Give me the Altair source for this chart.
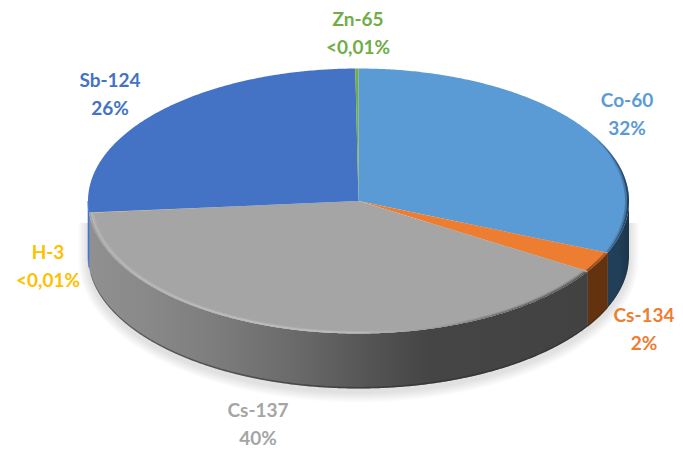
import numpy as np
import pandas as pd
import altair as alt

ISOTOPES = ["Co-60", "Cs-134", "Cs-137", "H-3", "Sb-124", "Zn-65"]
SHARES = [31.4, 2.5, 39.7, 0.01, 26.2, 0.19]
PCT_LABELS = ["32%", "2%", "40%", "<0,01%", "26%", "<0,01%"]
TOP_COLORS = ["#5B9BD5", "#ED7D31", "#A5A5A5", "#FFC000", "#4472C4", "#70AD47"]
SIDE_FILLS = ["#213F59", "#63330F", None, "#8A6A00", "#3F74D4", "#3F6B28"]

# layout (page pixels minus the 8px margin)
CX, CY, RX, RY, DEPTH = 350.5, 193.0, 270.5, 132.5, 55.0
LABEL_XY = {
    "Co-60": (619, 93), "Cs-134": (636, 308), "Cs-137": (250, 403),
    "H-3": (40, 245), "Sb-124": (102, 73), "Zn-65": (350, 12),
}
LINE_GAP = 27.5

bounds = np.concatenate([[0], np.cumsum(SHARES)]) / np.sum(SHARES) * 360.0
BOUNDS = dict(zip(ISOTOPES, zip(bounds[:-1], bounds[1:])))
PROJ = alt.Projection(type="identity", scale=1, translate=[0, 0])


def arc(a0, a1, dx=0.0, dy=0.0, off=0.0, n=None):
    n = n or max(2, int(abs(a1 - a0)) * 2 + 2)
    t = np.radians(np.linspace(a0, a1, n))
    return [[float(CX + (RX - dx) * np.sin(v)), float(CY + off - (RY - dy) * np.cos(v))] for v in t]


def feature(pts, **props):
    pts = list(pts)
    pts.append(pts[0])
    return {"type": "Feature", "properties": props,
            "geometry": {"type": "Polygon", "coordinates": [pts]}}


def shape(pts, fill, stroke=False, opacity=1.0):
    kw = {"fill": fill, "strokeWidth": 0, "opacity": opacity}
    if stroke:
        kw = {"fill": fill, "stroke": fill, "strokeWidth": 0.6, "opacity": opacity}
    return alt.Chart(alt.Data(values=[feature(pts)])).mark_geoshape(**kw).project(**PROJ.to_dict())


def grad(stops):
    return alt.Gradient(gradient="linear", x1=0, y1=0, x2=1, y2=0,
                        stops=[alt.GradientStop(offset=o, color=c) for o, c in stops])


def side(a0, a1):
    a0, a1 = max(a0, 90.0), min(a1, 270.0)
    if a1 <= a0:
        return None
    return arc(a0, a1) + arc(a1, a0, off=DEPTH)


def strip(a0, a1, d0, d1):
    k = RY / RX
    return arc(a0, a1, dx=d0, dy=d0 * k) + arc(a1, a0, dx=d1, dy=d1 * k)


layers = []

# soft shadow under the pie
for k in range(1, 11):
    e = float(k)
    t = np.radians(np.linspace(90, 270, 181))
    pts = [[float(CX + (RX + e) * np.sin(v)), float(CY + DEPTH + 4 - (RY + e) * np.cos(v))] for v in t]
    pts = [[CX + RX + e, CY + 22]] + pts + [[CX - RX - e, CY + 22]]
    layers.append(shape(pts, "#000000", opacity=0.012))

# side wall
for iso, col in zip(ISOTOPES, SIDE_FILLS):
    a0, a1 = BOUNDS[iso]
    p = side(a0, a1)
    if p is None or iso == "H-3":
        continue
    if iso == "Cs-137":
        fill = grad([(0, "#909090"), (0.10, "#8a8a8a"), (0.24, "#7e7e7e"), (0.43, "#686868"),
                     (0.55, "#565656"), (0.68, "#454545"), (1, "#424242")])
        layers.append(shape(p, fill))
    elif iso == "Co-60":
        layers.append(shape(p, grad([(0, "#223F58"), (0.5, "#213F59"), (1, "#1B3448")])))
    else:
        layers.append(shape(p, col, stroke=True))

# dark lower edge of the wall
edge = arc(95, 262, off=DEPTH) + arc(262, 95, off=DEPTH - 1.6)
layers.append(shape(edge, "#2a2a2a", opacity=0.5))

# top faces
tops = [feature([[CX, CY]] + arc(*BOUNDS[i]), name=i, share=s) for i, s in zip(ISOTOPES, SHARES)]
colour = alt.Color("properties.name:N", legend=None,
                   scale=alt.Scale(domain=ISOTOPES, range=TOP_COLORS))
layers.append(
    alt.Chart(alt.Data(values=tops)).mark_geoshape(strokeWidth=0)
    .encode(color=colour).project(**PROJ.to_dict())
)

# bevels along the front rim (light on the left, dark on the right)
a0, a1 = BOUNDS["Cs-137"]
layers.append(shape(strip(a0 + 0.5, a1 - 0.3, 0, 1.6),
                    grad([(0, "#a0a0a0"), (0.10, "#b0b0b0"), (0.48, "#c0c0c0"), (0.62, "#a8a8a8"),
                          (0.72, "#8c8c8c"), (0.86, "#5e5e5e"), (1, "#505050")])))
layers.append(shape(strip(a0 + 0.5, a1 - 0.3, 1.6, 3.2),
                    grad([(0, "rgba(205,205,205,0.45)"), (0.30, "rgba(205,205,205,0.7)"),
                          (0.55, "rgba(205,205,205,0.6)"), (0.67, "rgba(165,165,165,0)"),
                          (0.80, "rgba(90,90,90,0.45)"), (1, "rgba(80,80,80,0.7)")])))
layers.append(shape(strip(a0 + 0.5, a1 - 0.3, 3.2, 5),
                    grad([(0, "rgba(205,205,205,0.2)"), (0.30, "rgba(205,205,205,0.3)"),
                          (0.55, "rgba(205,205,205,0.2)"), (0.67, "rgba(165,165,165,0)"),
                          (0.80, "rgba(110,110,110,0.15)"), (1, "rgba(100,100,100,0.3)")])))

c0, c1 = BOUNDS["Co-60"]
layers.append(shape(strip(60, c1 - 0.3, 0, 2),
                    grad([(0, "rgba(30,60,90,0)"), (0.55, "rgba(30,60,90,0.55)"), (1, "rgba(30,55,80,0.9)")])))
layers.append(shape(strip(70, c1 - 0.3, 2, 4),
                    grad([(0, "rgba(30,60,90,0)"), (0.6, "rgba(30,60,90,0.2)"), (1, "rgba(30,55,80,0.4)")])))
o0, o1 = BOUNDS["Cs-134"]
layers.append(shape(strip(o0 + 0.2, o1 - 0.2, 0, 3), grad([(0, "#8c4a1c"), (1, "#b8612a")])))

# labels
rows = []
for iso, pct in zip(ISOTOPES, PCT_LABELS):
    x, y = LABEL_XY[iso]
    rows.append({"iso": iso, "txt": iso, "px": x, "py": y})
    rows.append({"iso": iso, "txt": pct, "px": x, "py": y + LINE_GAP})
labels = pd.DataFrame(rows)
text_layer = alt.Chart(labels).mark_text(
    font="Lato", fontSize=19, fontWeight="bold", align="center", baseline="middle"
).encode(
    x=alt.X("px:Q", scale=None, axis=None),
    y=alt.Y("py:Q", scale=None, axis=None),
    text="txt:N",
    color=alt.Color("iso:N", legend=None, scale=alt.Scale(
        domain=ISOTOPES, range=["#5B9BD5", "#ED7D31", "#A5A5A5", "#FFC000", "#4472C4", "#70AD47"])),
)
layers.append(text_layer)

chart = alt.layer(*layers).resolve_scale(color="independent").properties(
    width=667, height=439, padding=0, autosize=alt.AutoSizeParams(type="none"), background="#ffffff"
).configure_view(stroke=None)

chart.save("out.html", embed_options={"renderer": "svg", "actions": False})
